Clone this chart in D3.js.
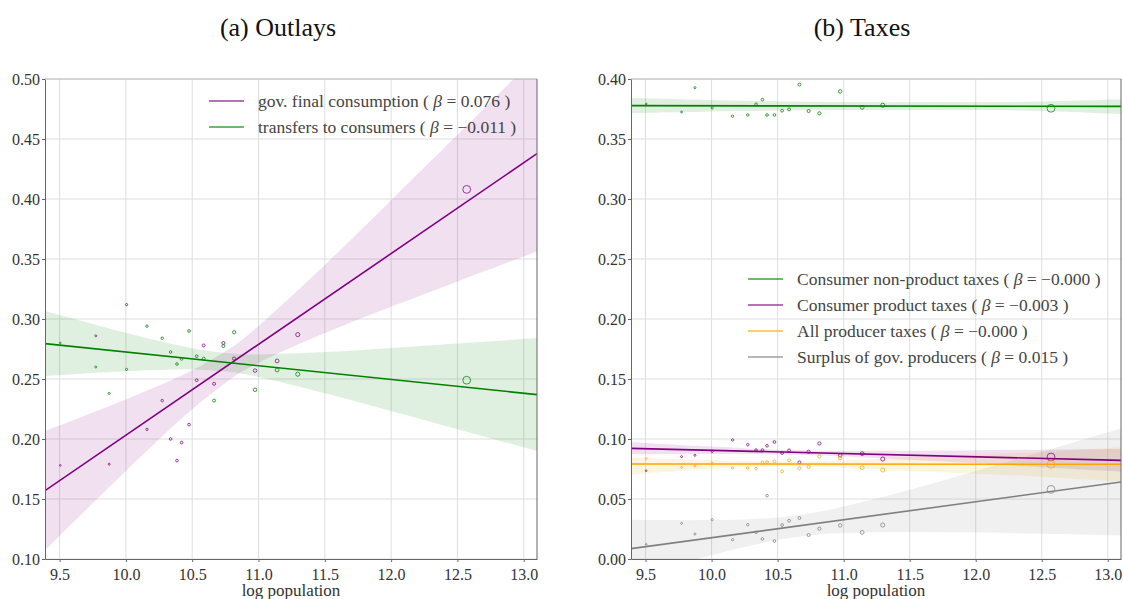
<!DOCTYPE html>
<html>
<head>
<meta charset="utf-8">
<script src="https://cdn.jsdelivr.net/npm/d3@7"></script>
<style>
body { margin: 0; background: #fff; }
text { font-family: "Liberation Serif", "DejaVu Serif", serif; }
</style>
</head>
<body>
<svg id="chart" width="1123" height="599"></svg>
<script>
// donnees
var logPop = [9.505, 9.773, 9.874, 10.005, 10.159, 10.274, 10.337, 10.385, 10.42, 10.476,
              10.534, 10.587, 10.665, 10.735, 10.816, 10.974, 11.14, 11.296, 12.57];

// (a) Outlays
var govCons   = [0.178, 0.286, 0.179, 0.312, 0.208, 0.232, 0.200, 0.182, 0.197, 0.212,
                 0.249, 0.278, 0.246, 0.280, 0.267, 0.257, 0.265, 0.287, 0.408];
var transfers = [0.280, 0.260, 0.238, 0.258, 0.294, 0.284, 0.2725, 0.2625, 0.2667, 0.290,
                 0.269, 0.267, 0.232, 0.2775, 0.289, 0.241, 0.2575, 0.254, 0.249];

// (b) Taxes
var nonProduct  = [0.3792, 0.3725, 0.3928, 0.376, 0.369, 0.370, 0.379, 0.3828, 0.370, 0.370,
                   0.3736, 0.3747, 0.3953, 0.3733, 0.3714, 0.3897, 0.3764, 0.3781, 0.3756];
var productTax  = [0.0736, 0.0853, 0.0864, 0.0897, 0.0992, 0.0953, 0.0908, 0.0908, 0.0944, 0.0975,
                   0.0883, 0.0905, 0.0805, 0.0894, 0.0963, 0.0864, 0.0878, 0.0833, 0.085];
var producerTax = [0.0838, 0.0764, 0.0775, 0.0797, 0.0758, 0.0758, 0.0753, 0.0805, 0.0808, 0.0814,
                   0.073, 0.0822, 0.0755, 0.0767, 0.0855, 0.0842, 0.0761, 0.0742, 0.0789];
var surplus     = [0.0122, 0.0297, 0.0208, 0.0328, 0.0161, 0.0286, 0.0222, 0.0167, 0.0528, 0.015,
                   0.0283, 0.0319, 0.0342, 0.020, 0.0253, 0.028, 0.0222, 0.0283, 0.058];

// droites de regression (valeurs aux deux bords de l'axe)
var fitX = [9.39, 13.1];
var govFit         = [0.157, 0.4378];
var transfersFit   = [0.2795, 0.2370];
var nonProductFit  = [0.3778, 0.3772];
var productTaxFit  = [0.0922, 0.0822];
var producerTaxFit = [0.0792, 0.0789];
var surplusFit     = [0.0086, 0.0642];

// intervalles de confiance (bornes basse / haute)
var bandX = [9.39, 9.75, 10.0, 10.25, 10.5, 10.75, 11.0, 11.5, 12.0, 12.5, 13.1];
var govLo = [0.1074, 0.1465, 0.1734, 0.1997, 0.2248, 0.2467, 0.2636, 0.2883, 0.3102, 0.3313, 0.3563];
var govHi = [0.2066, 0.2221, 0.2330, 0.2445, 0.2572, 0.2731, 0.2942, 0.3451, 0.3990, 0.4535, 0.5193];
var transfersLo = [0.2524, 0.2549, 0.2565, 0.2576, 0.2580, 0.2562, 0.2517, 0.2382, 0.2234, 0.2082, 0.1899];
var transfersHi = [0.3066, 0.2959, 0.2885, 0.2816, 0.2756, 0.2716, 0.2705, 0.2724, 0.2758, 0.2796, 0.2841];
var nonProductLo = [0.3715, 0.3722, 0.3729, 0.3733, 0.3737, 0.3739, 0.3741, 0.3742, 0.3742, 0.3733, 0.3708];
var nonProductHi = [0.3841, 0.3832, 0.3825, 0.3819, 0.3815, 0.3811, 0.3809, 0.3806, 0.3806, 0.3813, 0.3832];
var productTaxLo = [0.0872, 0.0874, 0.0875, 0.0875, 0.0871, 0.0865, 0.0855, 0.0827, 0.0797, 0.0765, 0.0728];
var productTaxHi = [0.0972, 0.0950, 0.0937, 0.0923, 0.0913, 0.0905, 0.0903, 0.0903, 0.0907, 0.0911, 0.0916];
var producerTaxLo = [0.0703, 0.0736, 0.0753, 0.0764, 0.0770, 0.0769, 0.0759, 0.0734, 0.0710, 0.0684, 0.0646];
var producerTaxHi = [0.0842, 0.0834, 0.0826, 0.0818, 0.0812, 0.0813, 0.0821, 0.0846, 0.0870, 0.0894, 0.0932];
var surplusLo = [-0.0156, -0.0044, 0.0031, 0.0100, 0.0158, 0.0198, 0.0217, 0.0226, 0.0220, 0.0210, 0.0196];
var surplusHi = [0.0328, 0.0324, 0.0325, 0.0330, 0.0346, 0.0382, 0.0437, 0.0578, 0.0734, 0.0894, 0.1088];

// axes
var xTicks = [9.5, 10.0, 10.5, 11.0, 11.5, 12.0, 12.5, 13.0];
var yTicksOutlays = [0.10, 0.15, 0.20, 0.25, 0.30, 0.35, 0.40, 0.45, 0.50];
var yTicksTaxes = [0.00, 0.05, 0.10, 0.15, 0.20, 0.25, 0.30, 0.35, 0.40];

// legendes
var outlaysNames = ["gov. final consumption", "transfers to consumers"];
var outlaysBetas = ["0.076", "\u22120.011"];
var taxNames = ["Consumer non-product taxes", "Consumer product taxes", "All producer taxes", "Surplus of gov. producers"];
var taxBetas = ["\u22120.000", "\u22120.003", "\u22120.000", "0.015"];

var serif = "'Liberation Serif', 'DejaVu Serif', serif";
var svg = d3.select("#chart");
var defs = svg.append("defs");

// taille des marqueurs proportionnelle a la population
var rScale = d3.scaleSqrt().domain([0, Math.exp(12.57)]).range([0, 3.9]);

function drawPanel(p) {
    var x = d3.scaleLinear().domain([9.39, 13.1]).range([p.left, p.right]);
    var y = d3.scaleLinear().domain(p.yDomain).range([559, 79]);

    var g = svg.append("g");

    defs.append("clipPath").attr("id", "clip" + p.id)
        .append("rect")
        .attr("x", p.left).attr("y", 79)
        .attr("width", p.right - p.left).attr("height", 480);

    // grille
    g.selectAll(".gx").data(xTicks).enter().append("line")
        .attr("x1", function(d) { return x(d); }).attr("x2", function(d) { return x(d); })
        .attr("y1", 79).attr("y2", 559)
        .attr("stroke", "#dedede").attr("stroke-width", 1);
    g.selectAll(".gy").data(p.yTicks).enter().append("line")
        .attr("x1", p.left).attr("x2", p.right)
        .attr("y1", function(d) { return y(d); }).attr("y2", function(d) { return y(d); })
        .attr("stroke", "#dedede").attr("stroke-width", 1);

    var plot = g.append("g").attr("clip-path", "url(#clip" + p.id + ")");

    // bandes de confiance
    var area = d3.area()
        .x(function(d) { return x(d.x); })
        .y0(function(d) { return y(d.lo); })
        .y1(function(d) { return y(d.hi); })
        .curve(d3.curveNatural);
    p.series.forEach(function(s) {
        var band = bandX.map(function(v, i) { return {x: v, lo: s.lo[i], hi: s.hi[i]}; });
        plot.append("path").datum(band)
            .attr("d", area)
            .attr("fill", s.color).attr("fill-opacity", 0.12);
    });

    // points
    p.series.forEach(function(s) {
        plot.selectAll(null).data(s.values).enter().append("circle")
            .attr("cx", function(d, i) { return x(logPop[i]); })
            .attr("cy", function(d) { return y(d); })
            .attr("r", function(d, i) { return rScale(Math.exp(logPop[i])); })
            .attr("fill", "none")
            .attr("stroke", s.color).attr("stroke-opacity", 0.75)
            .attr("stroke-width", 1);
    });

    // droites de regression
    p.series.forEach(function(s) {
        plot.append("line")
            .attr("x1", x(fitX[0])).attr("y1", y(s.fit[0]))
            .attr("x2", x(fitX[1])).attr("y2", y(s.fit[1]))
            .attr("stroke", s.color).attr("stroke-width", 1.6);
    });

    // cadre
    g.append("line").attr("x1", p.left).attr("x2", p.right).attr("y1", 79).attr("y2", 79)
        .attr("stroke", "#bbbbbb").attr("stroke-width", 1.2);
    g.append("line").attr("x1", p.right).attr("x2", p.right).attr("y1", 79).attr("y2", 559)
        .attr("stroke", "#666").attr("stroke-width", 1);

    // axes
    var xAxis = g.append("g").attr("transform", "translate(0,559)")
        .call(d3.axisBottom(x).tickValues(xTicks).tickFormat(d3.format(".1f")).tickSizeInner(3).tickSizeOuter(0));
    var yAxis = g.append("g").attr("transform", "translate(" + p.left + ",0)")
        .call(d3.axisLeft(y).tickValues(p.yTicks).tickFormat(d3.format(".2f")).tickSizeInner(3).tickSizeOuter(0));
    [xAxis, yAxis].forEach(function(a) {
        a.attr("font-family", serif).attr("font-size", 16);
        a.select(".domain").attr("stroke", "#666");
        a.selectAll(".tick line").attr("stroke", "#666");
        a.selectAll(".tick text").attr("fill", "#333");
    });
    xAxis.selectAll(".tick text").attr("dy", "0.95em");
    yAxis.selectAll(".tick text").attr("x", -5);

    // titres
    svg.append("text").attr("x", (p.left + p.right) / 2).attr("y", 596)
        .attr("text-anchor", "middle").attr("fill", "#333")
        .attr("font-family", serif).attr("font-size", 17)
        .text("log population");
    svg.append("text").attr("x", p.titleX).attr("y", 36)
        .attr("text-anchor", "middle").attr("fill", "#111")
        .attr("font-family", serif).attr("font-size", 26)
        .text(p.title);

    // legende
    p.series.forEach(function(s, i) {
        var ly = p.legendY + i * p.legendStep;
        svg.append("line")
            .attr("x1", p.legendX).attr("x2", p.legendX + 35)
            .attr("y1", ly).attr("y2", ly)
            .attr("stroke", s.color).attr("stroke-opacity", 0.75).attr("stroke-width", 1.6);
        var t = svg.append("text").attr("x", p.legendX + 49).attr("y", ly + 5.5)
            .attr("fill", "#444").attr("font-family", serif).attr("font-size", 17.5)
            .style("white-space", "pre");
        t.append("tspan").text(s.name + " ( ");
        t.append("tspan").style("font-style", "italic").text("\u03B2");
        t.append("tspan").text(" = " + s.beta + " )");
    });
}

drawPanel({
    id: "a", left: 45, right: 537, yDomain: [0.10, 0.50], yTicks: yTicksOutlays,
    title: "(a) Outlays", titleX: 278, legendX: 209, legendY: 101, legendStep: 26,
    series: [
        {name: outlaysNames[0], beta: outlaysBetas[0], color: "purple", values: govCons, fit: govFit, lo: govLo, hi: govHi},
        {name: outlaysNames[1], beta: outlaysBetas[1], color: "green", values: transfers, fit: transfersFit, lo: transfersLo, hi: transfersHi}
    ]
});

drawPanel({
    id: "b", left: 631, right: 1121, yDomain: [0.00, 0.40], yTicks: yTicksTaxes,
    title: "(b) Taxes", titleX: 862, legendX: 748, legendY: 279, legendStep: 26,
    series: [
        {name: taxNames[0], beta: taxBetas[0], color: "green", values: nonProduct, fit: nonProductFit, lo: nonProductLo, hi: nonProductHi},
        {name: taxNames[1], beta: taxBetas[1], color: "purple", values: productTax, fit: productTaxFit, lo: productTaxLo, hi: productTaxHi},
        {name: taxNames[2], beta: taxBetas[2], color: "orange", values: producerTax, fit: producerTaxFit, lo: producerTaxLo, hi: producerTaxHi},
        {name: taxNames[3], beta: taxBetas[3], color: "gray", values: surplus, fit: surplusFit, lo: surplusLo, hi: surplusHi}
    ]
});
</script>
</body>
</html>
